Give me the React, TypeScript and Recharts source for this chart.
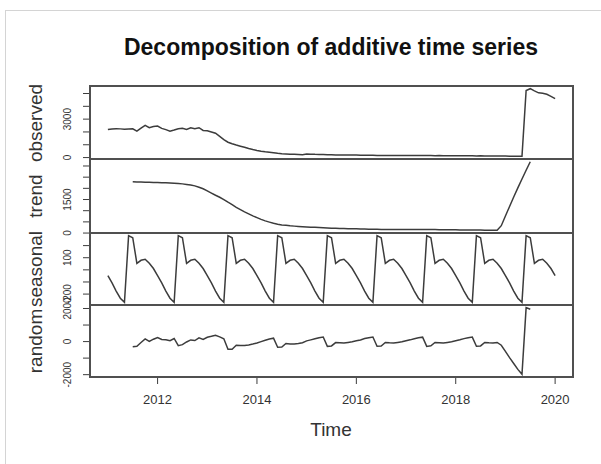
import React from "react";
import { LineChart, Line, XAxis, YAxis } from "recharts";

// monthly ts, Jan 2011 .. Jan 2020
const START = 2011;
const observed = [
  2200, 2230, 2250, 2240, 2220, 2230, 2240, 2060, 2300, 2520, 2330, 2420,
  2460, 2280, 2180, 2060, 2150, 2250, 2280, 2200, 2330, 2260, 2330, 2120,
  2100, 2000, 1900, 1650, 1400, 1200, 1080, 980, 890, 800, 710, 630,
  560, 500, 450, 410, 370, 330, 300, 280, 265, 250, 240, 230,
  270, 262, 250, 248, 240, 220, 218, 205, 210, 198, 200, 192,
  193, 182, 183, 172, 173, 160, 163, 155, 160, 154, 160, 158,
  165, 160, 166, 160, 163, 154, 159, 152, 156, 147, 150, 144,
  147, 139, 143, 136, 139, 130, 135, 127, 131, 123, 126, 120,
  118, 112, 110, 105, 100, 5240, 5375, 5200, 5050, 5020, 4940, 4780,
  4600,
];

// trend + random start at Jul 2011 (index 6)
const TREND_OFFSET = 6;
const trend = [
  2290, 2285, 2280, 2275, 2270, 2265,
  2260, 2255, 2250, 2240, 2230, 2215, 2200, 2175, 2150, 2110, 2050, 1980,
  1890, 1790, 1690, 1600, 1500, 1380, 1275, 1150, 1050, 950, 860, 770,
  690, 610, 545, 490, 435, 395, 365, 345, 325, 310, 298, 285,
  275, 265, 255, 245, 235, 225, 215, 210, 205, 200, 198, 195,
  190, 185, 180, 175, 170, 165, 160, 158, 157, 157, 158, 160,
  162, 163, 163, 162, 160, 158, 156, 155, 153, 150, 148, 146,
  144, 142, 140, 138, 136, 134, 132, 130, 128, 126, 125, 330,
  760, 1190, 1610, 2020, 2420, 2810, 3190,
];

// seasonal figure Jan..Dec
const seasonalFigure = [-48, -107, -175, -234, -268, 282, 265, 54, 79, 87, 54, 11];

const random = [
  -315, -279, -59, 158, 6, 144,
  248, 132, 105, 54, 188, -247, -185, -24, 101, 63, 226, 129,
  258, 317, 385, 284, 168, -462, -460, -224, -239, -237, -204, -151,
  -82, -3, 80, 154, 203, -347, -330, -119, -139, -147, -112, -66,
  43, 104, 170, 237, 273, -287, -262, -59, -74, -89, -52, -14,
  51, 100, 182, 229, 275, -283, -265, -55, -78, -86, -50, -15,
  55, 104, 175, 234, 268, -290, -259, -57, -72, -92, -54, -11,
  48, 108, 178, 230, 271, -284, -262, -53, -78, -88, -53, -221,
  -594, -971, -1325, -1681, -1980, 2050, 1950,
];

const xTicks = [2012, 2014, 2016, 2018, 2020];
const obsTicks = [0, 1000, 2000, 3000, 4000, 5000];
const obsLabels = [0, 3000];
const trendTicks = [0, 500, 1000, 1500, 2000, 2500, 3000];
const trendLabels = [0, 1500];
const seasTicks = [-200, -100, 0, 100, 200];
const seasLabels = [-200, 100];
const randTicks = [-2000, -1000, 0, 1000, 2000];
const randLabels = [-2000, 0, 2000];

const tOf = (i: number) => START + i / 12;

const obsData = observed.map((v, i) => ({ t: tOf(i), v }));
const seasData = observed.map((_, i) => ({ t: tOf(i), v: seasonalFigure[i % 12] }));
const trendData = trend.map((v, i) => ({ t: tOf(i + TREND_OFFSET), v }));
const randData = random.map((v, i) => ({ t: tOf(i + TREND_OFFSET), v }));

// R style 4% range extension
const rng = (vals: number[]): [number, number] => {
  const lo = Math.min(...vals);
  const hi = Math.max(...vals);
  const d = (hi - lo) * 0.04;
  return [lo - d, hi + d];
};
const X_DOMAIN: [number, number] = [START - 0.36, tOf(observed.length - 1) + 0.36];

const PLOT_L = 90;
const PLOT_R = 573;
const YW = 40;
const PAD = 12;
const LINE = "#3c3c3c";
const FONT = "'Liberation Sans', Arial, sans-serif";

function RotTick(props: any) {
  const { x, y, payload, labels } = props;
  if (!labels.includes(payload.value)) return null;
  return (
    <text
      x={x}
      y={y}
      transform={`rotate(-90, ${x}, ${y})`}
      textAnchor="middle"
      fontSize={10}
      fill="#333"
      fontFamily={FONT}
    >
      {payload.value}
    </text>
  );
}

function Panel({
  top,
  bottom,
  data,
  ticks,
  labels,
  name,
  showX,
}: {
  top: number;
  bottom: number;
  data: { t: number; v: number }[];
  ticks: number[];
  labels: number[];
  name: string;
  showX?: boolean;
}) {
  const h = bottom - top;
  const xh = showX ? 40 : 0;
  return (
    <>
      <div style={{ position: "absolute", left: 0, top: top - PAD }}>
        <LineChart
          width={601}
          height={h + PAD * 2 + xh}
          data={data}
          margin={{ top: PAD, right: 601 - PLOT_R, bottom: PAD, left: PLOT_L - YW }}
        >
          <XAxis
            hide={!showX}
            type="number"
            dataKey="t"
            domain={X_DOMAIN}
            ticks={xTicks}
            allowDataOverflow
            axisLine={false}
            tickLine={{ stroke: LINE }}
            tickSize={7}
            tickMargin={11}
            height={xh}
            tick={{ fill: "#333", fontSize: 13, fontFamily: FONT }}
          />
          <YAxis
            type="number"
            domain={rng(data.map((d) => d.v))}
            ticks={ticks}
            allowDataOverflow
            width={YW}
            axisLine={false}
            tickLine={{ stroke: LINE }}
            tickSize={7}
            tickMargin={12}
            tick={<RotTick labels={labels} />}
            interval={0}
          />
          <Line
            type="linear"
            dataKey="v"
            stroke={LINE}
            strokeWidth={1.5}
            dot={false}
            isAnimationActive={false}
          />
        </LineChart>
      </div>
      <div
        style={{
          position: "absolute",
          left: PLOT_L - 1,
          top: top - 1,
          width: PLOT_R - PLOT_L + 2,
          height: h + 2,
          border: "2px solid #505050",
          boxSizing: "border-box",
        }}
      />
      <div
        style={{
          position: "absolute",
          left: 35,
          top: (top + bottom) / 2,
          transform: "translate(-50%, -50%) rotate(-90deg)",
          fontFamily: FONT,
          fontSize: 19,
          color: "#333",
          whiteSpace: "nowrap",
          lineHeight: 1,
        }}
      >
        {name}
      </div>
    </>
  );
}

export default function App() {
  return (
    <div
      style={{
        position: "absolute",
        left: 0,
        top: 0,
        width: 601,
        height: 464,
        background: "#fff",
        overflow: "hidden",
        fontFamily: FONT,
      }}
    >
      <div
        style={{
          position: "absolute",
          left: 5,
          top: 10,
          width: 600,
          height: 470,
          border: "1px solid #d4d4d4",
        }}
      />
      <div
        style={{
          position: "absolute",
          left: 0,
          width: 2 * 331,
          top: 34,
          textAlign: "center",
          fontWeight: "bold",
          fontSize: 23,
          color: "#111",
        }}
      >
        Decomposition of additive time series
      </div>
      <Panel top={86} bottom={159} data={obsData} ticks={obsTicks} labels={obsLabels} name="observed" />
      <Panel top={159} bottom={233} data={trendData} ticks={trendTicks} labels={trendLabels} name="trend" />
      <Panel top={233} bottom={305} data={seasData} ticks={seasTicks} labels={seasLabels} name="seasonal" />
      <Panel top={305} bottom={377} data={randData} ticks={randTicks} labels={randLabels} name="random" showX />
      <div
        style={{
          position: "absolute",
          left: 0,
          width: 2 * 331,
          top: 419,
          textAlign: "center",
          fontSize: 19,
          color: "#333",
        }}
      >
        Time
      </div>
    </div>
  );
}
